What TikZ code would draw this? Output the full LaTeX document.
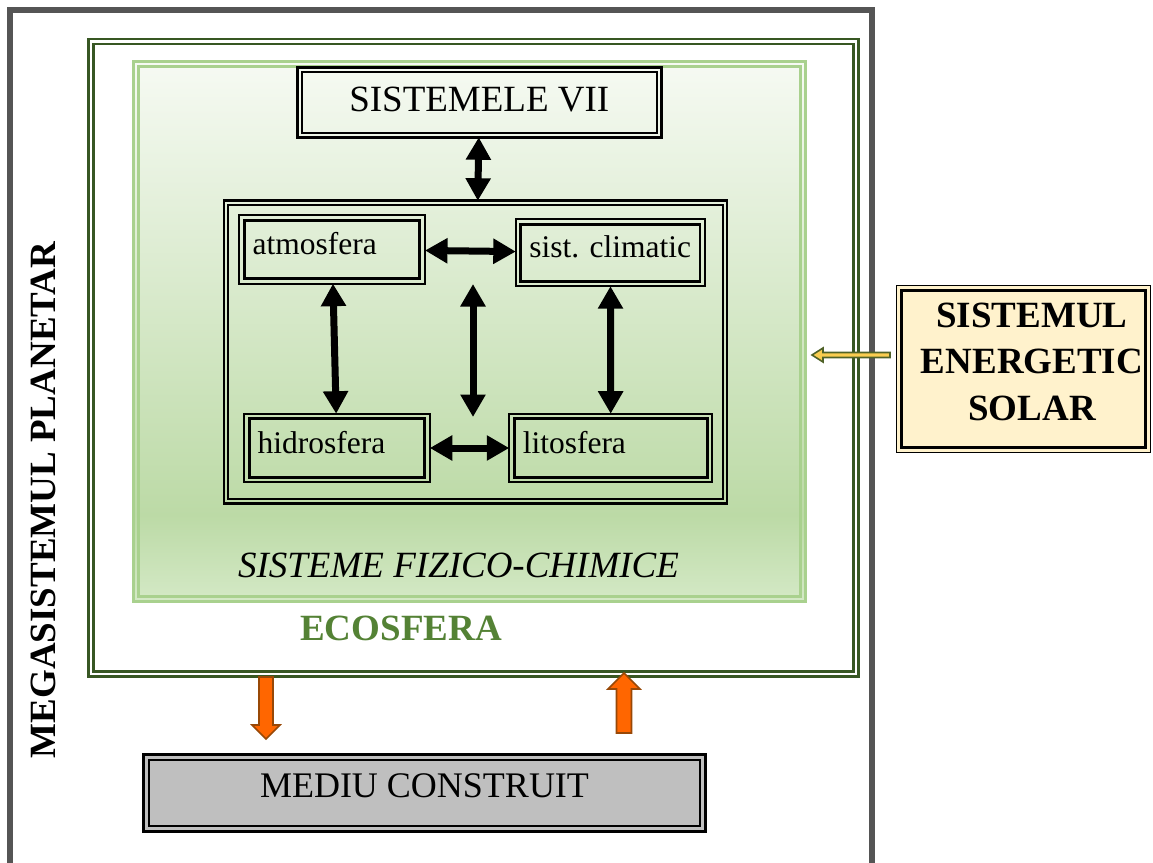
\documentclass[tikz,border=0pt]{standalone}
\usepackage{fontspec}
\setmainfont{Liberation Serif}
\usepackage{tikz}
\usetikzlibrary{arrows.meta}

\definecolor{megagray}{RGB}{85,85,85}
\definecolor{ecodark}{RGB}{56,87,35}
\definecolor{ecotext}{RGB}{84,130,53}
\definecolor{fizline}{RGB}{169,209,142}
\definecolor{gtop}{RGB}{246,250,243}
\definecolor{gmid}{RGB}{188,218,166}
\definecolor{gbot}{RGB}{212,233,198}
\definecolor{solfill}{RGB}{255,242,204}
\definecolor{soledge}{RGB}{79,98,40}
\definecolor{solarr}{RGB}{250,205,80}
\definecolor{medgray}{RGB}{191,191,191}
\definecolor{orgfill}{RGB}{255,102,0}
\definecolor{orgedge}{RGB}{152,72,7}

\newcommand{\fntbig}{\fontsize{37pt}{46.5pt}\selectfont}
\newcommand{\fntmed}{\fontsize{36pt}{42pt}\selectfont}
\newcommand{\fntsph}{\fontsize{31.5pt}{36pt}\selectfont}

\pgfdeclareverticalshading{fizgrad}{100bp}{color(0bp)=(gbot); color(25bp)=(gbot); color(33bp)=(gmid); color(75bp)=(gtop); color(100bp)=(gtop)}

\begin{document}
\begin{tikzpicture}[x=1pt, y=-1pt,
  frame/.style={draw, outer sep=0pt, inner sep=0pt},
  sph/.style={frame, line width=1.7pt, inner xsep=13.5pt, inner ysep=0pt, align=left,
    text height=21pt, text depth=11pt, font=\fntsph},
  dblarr/.style={{Triangle[length=22.5pt,width=24pt]}-{Triangle[length=22.5pt,width=24pt]}, line width=7pt},
  blk/.style={line width=1.6pt, line join=miter}]

  \useasboundingbox (0,0) rectangle (1153,862);
  \clip (0,0) rectangle (1153,862);

  %% megasistem
  \node[frame, draw=megagray, line width=6pt, minimum width=861.5pt, minimum height=890pt] (mega) at (440.75,455) {};
  \node[rotate=90, font=\fntbig\bfseries] (megatxt) at (43,500) {MEGASISTEMUL PLANETAR};

  %% ecosfera
  \node[frame, draw=ecodark, line width=2.6pt, minimum width=770pt, minimum height=637.5pt] (eco) at (473.7,357.75) {};
  \draw[ecodark, line width=2.6pt] ([shift={(5,5)}]eco.north west) rectangle ([shift={(-5,-5)}]eco.south east);
  \node[font=\fntbig\bfseries, text=ecotext] (ecotxt) at (401,628.5) {ECOSFERA};

  %% sisteme fizico-chimice
  \node[frame, draw=fizline, line width=3pt, shade, shading=fizgrad, minimum width=672.2pt, minimum height=540.2pt] (fiz) at (469.6,331.4) {};
  \draw[fizline, line width=2.6pt] ([shift={(5,5)}]fiz.north west) rectangle ([shift={(-5,-5)}]fiz.south east);
  \node[font=\fntbig\itshape] (fiztxt) at (458.5,565) {SISTEME FIZICO-CHIMICE};

  \node[frame, line width=2.6pt, minimum width=364pt, minimum height=70pt, text height=25pt, text depth=6pt, font=\fntbig] (vii) at (479.3,102.3) {SISTEMELE VII};
  \node[frame, line width=2.7pt, minimum width=503pt, minimum height=302.6pt] (geo) at (475.5,352) {};

  \node[sph, minimum width=185.8pt, minimum height=68.7pt, text width=158.8pt] (atm) at (332.1,249.35) {atmosfera};
  \node[sph, minimum width=189.2pt, minimum height=67pt, text width=162.2pt] (cli) at (610.4,252.7) {\mbox{sist.\ climatic}};
  \node[sph, minimum width=185.6pt, minimum height=68.6pt, text width=158.6pt] (hid) at (337,448) {hidrosfera};
  \node[sph, minimum width=203pt, minimum height=68.6pt, text width=176pt] (lit) at (610.75,448) {litosfera};

  %% mediu construit, sistem solar
  \node[frame, fill=medgray, line width=2.6pt, minimum width=562pt, minimum height=77pt, text height=24pt, text depth=16pt, font=\fntmed] (med) at (424.5,793) {MEDIU CONSTRUIT};
  \node[frame, fill=solfill, line width=1.2pt, minimum width=253.8pt, minimum height=167pt] (sol) at (1023.6,369.3) {};
  \node[align=center, font=\fntbig\bfseries] (soltxt) at (1032,361.5) {SISTEMUL\\ENERGETIC\\SOLAR};

  % inner lines of the double frames
  \foreach \n/\d/\w in {vii/4.4/1.8pt, geo/4.4/2pt, atm/5.2/2.8pt, cli/5/2.8pt, hid/5/2.8pt, lit/5/2.8pt, med/5.5/2.2pt, sol/5/3pt}
    \draw[line width=\w] ([shift={(\d,\d)}]\n.north west) rectangle ([shift={(-\d,-\d)}]\n.south east);

  \draw[dblarr] (vii) -- (geo);
  \draw[dblarr] (atm) -- (cli); %% atm<->cli
  \draw[dblarr] (atm) -- (hid);
  \draw[dblarr] (cli) -- (lit);
  \draw[dblarr] (hid) -- (lit); %% hid<->lit
  \coordinate (mtop) at (473,284);
  \coordinate (mbot) at (473,417);
  \draw[dblarr] (mtop) -- (mbot);

  %% block arrows
  \draw[blk, draw=soledge, fill=solarr] ([shift={(-6.7,-16.8)}]sol.west) -- ++(-67,0) -- ++(0,-4.5) -- ++(-11,7) -- ++(11,7) -- ++(0,-4.5) -- ++(67,0) -- cycle;
  \draw[blk, draw=orgedge, fill=orgfill] ([shift={(-214.7,0.5)}]eco.south) -- ++(0,48) -- ++(-7,0) -- ++(14,14) -- ++(14,-14) -- ++(-7,0) -- ++(0,-48) -- cycle; %% eco->med
  \draw[blk, draw=orgedge, fill=orgfill] ([shift={(192,-21.5)}]med.north) -- ++(0,-44) -- ++(-8.5,0) -- ++(16,-16) -- ++(16,16) -- ++(-8.5,0) -- ++(0,44) -- cycle; %% med->eco
\end{tikzpicture}
\end{document}
